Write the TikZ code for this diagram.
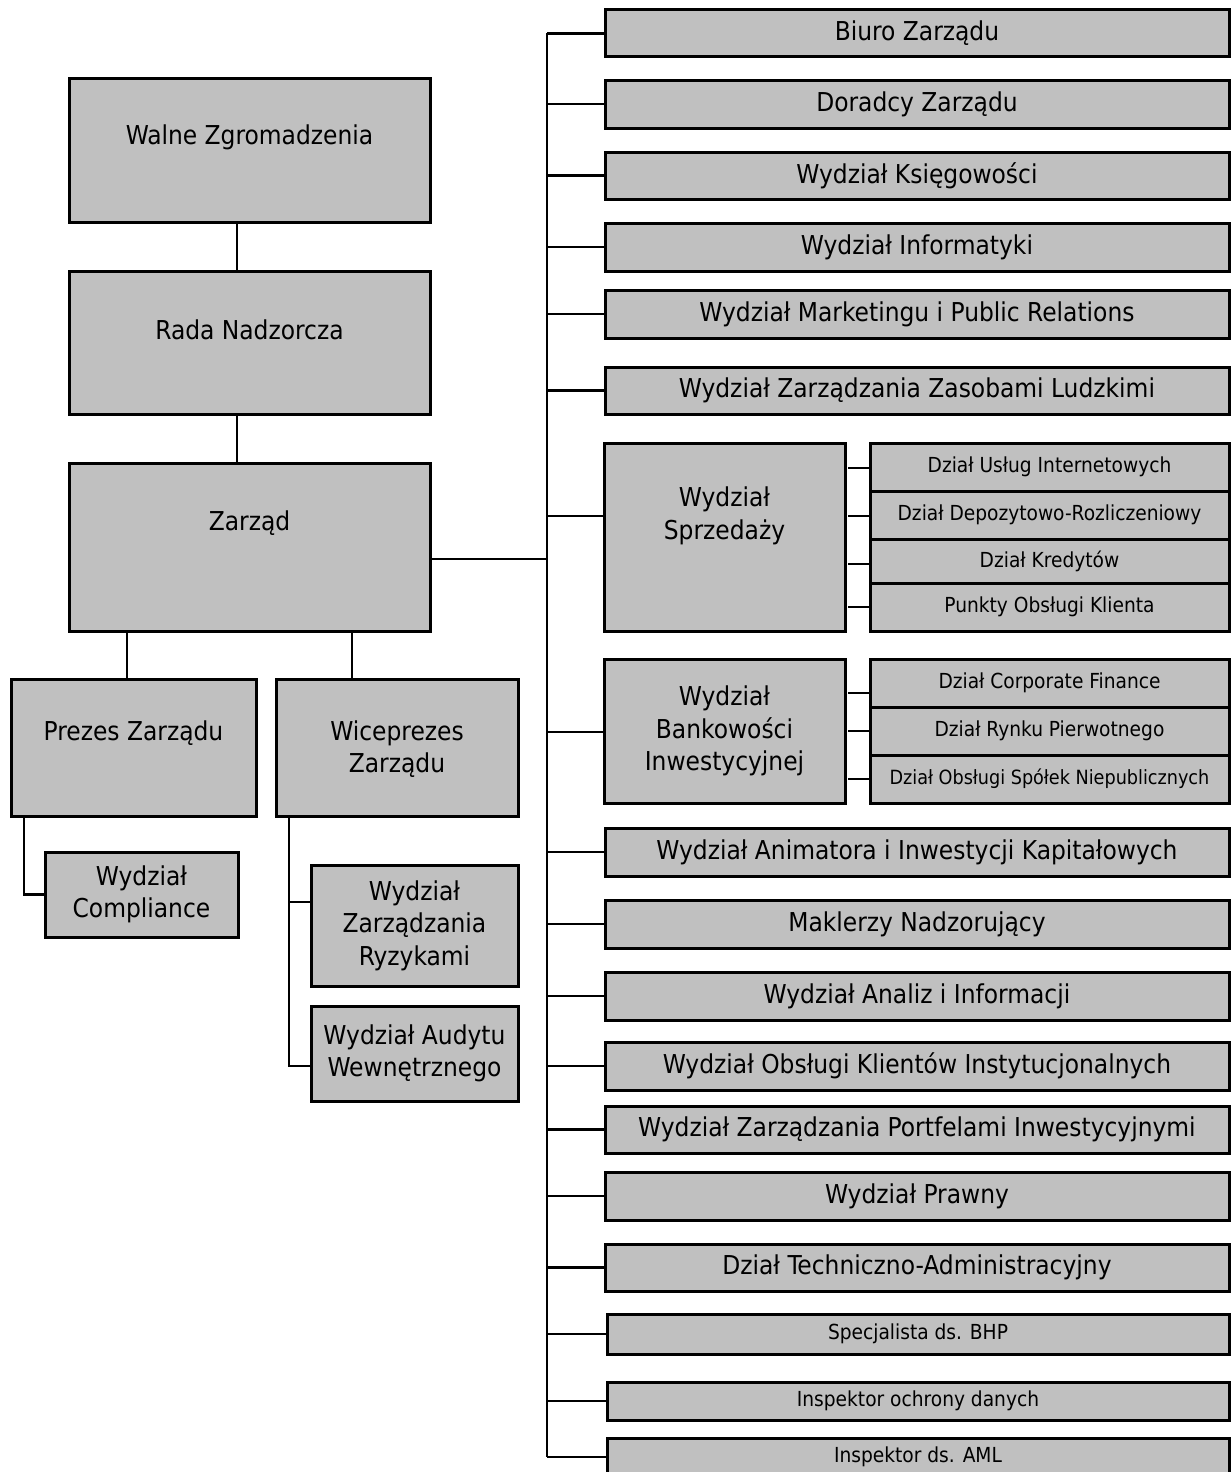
\documentclass[tikz,border=0pt]{standalone}
\usepackage{fontspec}
\setmainfont{DejaVu Sans Condensed}
\definecolor{boxgray}{RGB}{192,192,192}
\newcommand\bigf{\fontsize{26}{32.5}\selectfont}
\newcommand\smf{\fontsize{20.7}{24}\selectfont}
\newcommand\smff{\fontsize{19.6}{24}\selectfont}
\tikzset{
  box/.style={draw=black, line width=3pt, fill=boxgray, inner sep=0pt, outer sep=0pt, align=center, font=\bigf, text=black},
  sbox/.style={box, font=\smf},
  txt/.style={inner sep=0pt, outer sep=0pt, align=center, font=\bigf, text=black},
  conn/.style={line width=2.5pt, black},
}
% name, x1, y1, x2, y2, style, text
\newcommand\bx[7]{\node[#6, minimum width={(#4-#2)*1pt}, minimum height={(#5-#3)*1pt}] (#1) at ({(#2+#4)/2},{(#3+#5)/2}) {#7};}
\begin{document}
\begin{tikzpicture}[x=1pt,y=-1pt]
\useasboundingbox (0,0) rectangle (1231,1472);
% ---------- left column ----------
\bx{walne}{69}{78}{430}{222}{box}{}
\node[txt] (walnet) at (249.5,137) {Walne Zgromadzenia};
\bx{rada}{69}{271}{430}{414}{box}{}
\node[txt] (radat) at (249.5,330) {Rada Nadzorcza};
\bx{zarzad}{69}{463}{430}{631}{box}{}
\node[txt] (zarzadt) at (249.5,523) {Zarząd};
\bx{prezes}{11}{679}{256}{816}{box}{}
\node[txt] (prezest) at (133.5,733) {Prezes Zarządu};
\bx{wice}{276}{679}{518}{816}{box}{}
\node[txt] (wicet) at (397,749) {Wiceprezes\\Zarządu};
\bx{compl}{45}{852}{238}{937}{box}{Wydział\\Compliance}
\bx{ryz}{311}{865}{518}{986}{box}{Wydział\\Zarządzania\\Ryzykami}
\bx{aud}{311}{1006}{518}{1101}{box}{Wydział Audytu\\Wewnętrznego}
% ---------- right column ----------
\bx{biuro}{605}{10}{1229}{57}{box}{Biuro Zarządu}
\bx{dorad}{605}{80}{1229}{128}{box}{Doradcy Zarządu}
\bx{ksieg}{605}{152}{1229}{199}{box}{Wydział Księgowości}
\bx{info}{605}{223}{1229}{271}{box}{Wydział Informatyki}
\bx{mark}{605}{290}{1229}{338}{box}{Wydział Marketingu i Public Relations}
\bx{hr}{605}{367}{1229}{414}{box}{Wydział Zarządzania Zasobami Ludzkimi}
\bx{sprz}{604}{443}{845}{631}{box}{}
\node[txt] (sprzt) at (724.5,516) {Wydział\\Sprzedaży};
\bx{s1}{870}{443}{1229}{491}{sbox}{Dział Usług Internetowych}
\bx{s2}{870}{491}{1229}{539}{sbox}{Dział Depozytowo-Rozliczeniowy}
\bx{s3}{870}{539}{1229}{583}{sbox}{Dział Kredytów}
\bx{s4}{870}{583}{1229}{631}{sbox}{Punkty Obsługi Klienta}
\bx{bank}{604}{659}{845}{803}{box}{Wydział\\Bankowości\\Inwestycyjnej}
\bx{b1}{870}{659}{1229}{707}{sbox}{Dział Corporate Finance}
\bx{b2}{870}{707}{1229}{755}{sbox}{Dział Rynku Pierwotnego}
\bx{b3}{870}{755}{1229}{803}{sbox,font=\smff}{Dział Obsługi Spółek Niepublicznych}
\bx{anim}{605}{828}{1229}{876}{box}{Wydział Animatora i Inwestycji Kapitałowych}
\bx{makl}{605}{900}{1229}{948}{box}{Maklerzy Nadzorujący}
\bx{anal}{605}{972}{1229}{1020}{box}{Wydział Analiz i Informacji}
\bx{oblk}{605}{1042}{1229}{1090}{box}{Wydział Obsługi Klientów Instytucjonalnych}
\bx{port}{605}{1106}{1229}{1153}{box}{Wydział Zarządzania Portfelami Inwestycyjnymi}
\bx{praw}{605}{1172}{1229}{1220}{box}{Wydział Prawny}
\bx{tech}{605}{1244}{1229}{1291}{box}{Dział Techniczno-Administracyjny}
\bx{bhp}{607}{1314}{1229}{1354}{sbox}{Specjalista ds. BHP}
\bx{ochr}{607}{1382}{1229}{1420}{sbox}{Inspektor ochrony danych}
\bx{aml}{607}{1438}{1229}{1476}{sbox}{Inspektor ds. AML}
% ---------- connector helpers ----------
\coordinate (vx) at (237,0);
\coordinate (tx) at (547,0);
\coordinate (tz) at (0,559);
\coordinate (px) at (127,0);
\coordinate (wx) at (352,0);
\coordinate (cx) at (24,0);
\coordinate (rx) at (289,0);
\coordinate (ry) at (0,902);
\coordinate (ay) at (0,1066);
\coordinate (sx) at (848,0);
\coordinate (sy) at (0,516);
\coordinate (by) at (0,732);
% ---------- connectors ----------
\draw[conn] (walne.south -| vx) -- (rada.north -| vx);
\draw[conn] (rada.south -| vx) -- (zarzad.north -| vx);
\draw[conn] (zarzad.south -| px) -- (prezes.north -| px);
\draw[conn] (zarzad.south -| wx) -- (wice.north -| wx);
\draw[conn] (prezes.south -| cx) |- (compl.west);
\draw[conn] (wice.south -| rx) -- (ay -| rx) -- (aud.west |- ay);
\draw[conn] (ry -| rx) -- (ry -| ryz.west);
\draw[conn] (zarzad.east |- tz) -- (tz -| tx);
\draw[conn] (biuro.west -| tx) -- (aml.west -| tx);
\foreach \n in {biuro,dorad,ksieg,info,mark,hr,anim,makl,anal,oblk,port,praw,tech,bhp,ochr,aml}
  \draw[conn] (\n.west -| tx) -- (\n.west);
\draw[conn] (sy -| tx) -- (sy -| sprz.west);
\draw[conn] (by -| tx) -- (by -| bank.west);
\foreach \n/\yy in {s1/468,s2/516,s3/564,s4/607,b1/693,b2/731,b3/779}
  \draw[conn] (sx |- 0,\yy) -- (\n.west |- 0,\yy);
\end{tikzpicture}
\end{document}
